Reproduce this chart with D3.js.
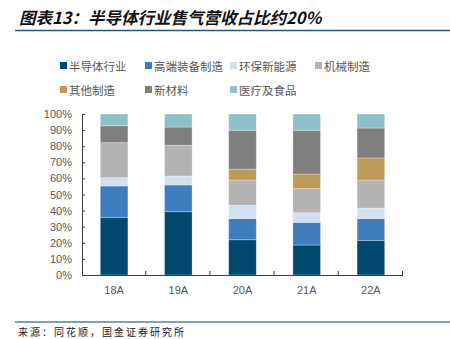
<!DOCTYPE html>
<html>
<head>
<meta charset="utf-8">
<script src="https://cdn.jsdelivr.net/npm/d3@7"></script>
<style>
  html, body { margin: 0; padding: 0; background: #fff; }
  svg { display: block; font-family: "Liberation Sans", Arial, "Noto Sans CJK SC", sans-serif; }
</style>
</head>
<body>
<svg id="chart" width="450" height="339"></svg>
<script>
// Revenue share by downstream industry (%), per year
const years = ["18A", "19A", "20A", "21A", "22A"];
const seriesNames = ["半导体行业", "高端装备制造", "环保新能源", "机械制造", "其他制造", "新材料", "医疗及食品"];
const semiconductor = [35.6, 39.3, 21.9, 18.6, 21.5];
const highEndEquipment = [19.7, 16.6, 13.1, 14.1, 13.5];
const greenEnergy = [5.1, 5.6, 8.3, 6.0, 6.6];
const machinery = [21.8, 19.1, 15.7, 14.9, 17.4];
const otherManufacturing = [0, 0, 6.8, 9.1, 13.7];
const newMaterials = [10.5, 11.3, 24.1, 27.2, 18.6];
const medicalFood = [7.3, 8.1, 10.1, 10.1, 8.7];
const yTicks = [0, 10, 20, 30, 40, 50, 60, 70, 80, 90, 100];

const seriesValues = [semiconductor, highEndEquipment, greenEnergy, machinery, otherManufacturing, newMaterials, medicalFood];
const colors = ["#00486e", "#3f7ebe", "#d0e2f2", "#b3b3b3", "#bd9a58", "#7f7f7f", "#8ec1c7"];

const rows = years.map((yr, i) => {
  const r = { year: yr };
  seriesNames.forEach((n, k) => { r[n] = seriesValues[k][i]; });
  return r;
});
const stacked = d3.stack().keys(seriesNames)(rows);

const svg = d3.select("#chart");
const plotLeft = 82, plotRight = 403, plotTop = 114, plotBottom = 275;

const x = d3.scaleBand().domain(years).range([plotLeft, plotRight]).paddingInner(0.57).paddingOuter(0.285);
const y = d3.scaleLinear().domain([0, 100]).range([plotBottom, plotTop]);

// Title
svg.append("text")
  .attr("x", 19).attr("y", 24)
  .attr("font-family", "'Noto Sans CJK SC', sans-serif")
  .attr("font-size", 16.5).attr("font-weight", 700).attr("font-style", "italic")
  .attr("fill", "#111")
  .text("图表13：半导体行业售气营收占比约20%");
svg.append("line").attr("x1", 15).attr("x2", 450).attr("y1", 30.5).attr("y2", 30.5)
  .attr("stroke", "#1d5a80").attr("stroke-width", 1.6);

// Legend
const legendPos = [[60, 66], [145, 66], [230, 66], [315, 66], [60, 90], [145, 90], [230, 90]];
const legend = svg.append("g");
seriesNames.forEach((n, k) => {
  const [lx, ly] = legendPos[k];
  legend.append("rect").attr("x", lx).attr("y", ly - 4).attr("width", 7).attr("height", 7).attr("fill", colors[k]);
  legend.append("text").attr("x", lx + 9).attr("y", ly + 4.5)
    .attr("font-family", "'Noto Sans CJK SC', sans-serif")
    .attr("font-size", 11.5).attr("fill", "#595959").text(n);
});

// Bars
svg.append("g").selectAll("g").data(stacked).join("g")
  .attr("fill", (d, i) => colors[i])
  .selectAll("rect").data(d => d).join("rect")
  .attr("x", d => x(d.data.year))
  .attr("width", x.bandwidth())
  .attr("y", d => y(d[1]))
  .attr("height", d => Math.max(0, y(d[0]) - y(d[1])))
  .attr("stroke", "rgba(255,255,255,0.35)")
  .attr("stroke-width", 0.8);

// Y axis
const yAxis = svg.append("g").attr("transform", `translate(${plotLeft},0)`)
  .call(d3.axisLeft(y).tickValues(yTicks).tickFormat(d => d + "%").tickSizeInner(-3).tickSizeOuter(0).tickPadding(10));
yAxis.select(".domain").attr("stroke", "#404040");
yAxis.selectAll(".tick line").attr("stroke", "#404040");
yAxis.selectAll("text").attr("font-size", 11).attr("fill", "#595959").attr("font-family", "'Liberation Sans', Arial, sans-serif");

// X axis
const xAxis = svg.append("g").attr("transform", `translate(0,${plotBottom})`)
  .call(d3.axisBottom(x).tickSize(0).tickPadding(11));
xAxis.select(".domain").attr("stroke", "#404040").attr("d", `M${plotLeft},0.5H${plotRight}`);
xAxis.selectAll("text").attr("font-size", 11).attr("fill", "#595959").attr("font-family", "'Liberation Sans', Arial, sans-serif");
// category separators
const step = x.step();
xAxis.append("g").selectAll("line").data(years).join("line")
  .attr("x1", (d) => x(d) - x.paddingInner() * step / 2 + step - 0.5)
  .attr("x2", (d) => x(d) - x.paddingInner() * step / 2 + step - 0.5)
  .attr("y1", 0).attr("y2", -4).attr("stroke", "#404040");

// Footer
svg.append("line").attr("x1", 15).attr("x2", 450).attr("y1", 322).attr("y2", 322)
  .attr("stroke", "#4f83a6").attr("stroke-width", 1.6);
svg.append("text").attr("x", 18).attr("y", 336)
  .attr("font-family", "'Noto Sans CJK SC', sans-serif")
  .attr("font-size", 10).attr("letter-spacing", 2).attr("fill", "#222")
  .text("来源：同花顺，国金证券研究所");
</script>
</body>
</html>
